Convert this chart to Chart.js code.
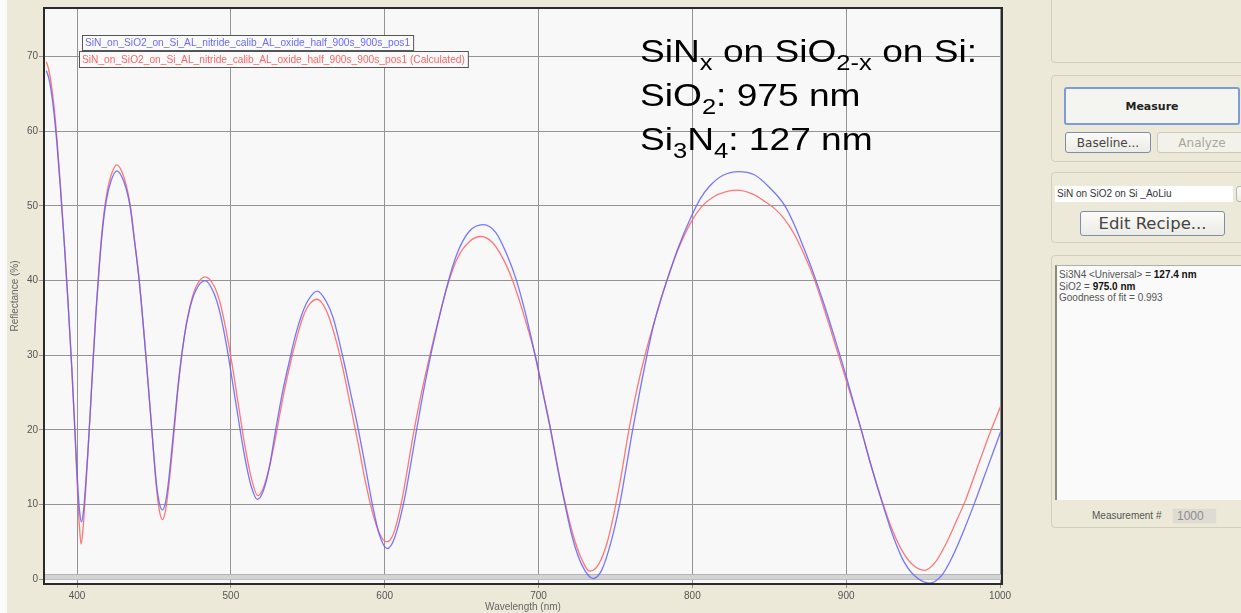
<!DOCTYPE html>
<html>
<head>
<meta charset="utf-8">
<script src="https://cdn.jsdelivr.net/npm/chart.js@4.4.1/dist/chart.umd.min.js"></script>
<style>
  html, body { margin: 0; padding: 0; }
  body { width: 1241px; height: 613px; background: #ece9d8; position: relative; overflow: hidden; font-family: "Liberation Sans", Arial, sans-serif; }
  #edge { position: absolute; left: 0; top: 0; width: 7px; height: 613px; background: #fbfbf9; }
  #plot { position: absolute; left: 0; top: 0; }
  .note { position: absolute; left: 640px; font-size: 32px; line-height: 32px; color: #000; white-space: nowrap; transform: scaleX(1.16); transform-origin: left center; }
  .note .sb { font-size: 22px; position: relative; top: 8px; }
  .grp { position: absolute; border: 1px solid #d0d0bf; border-radius: 4px; box-sizing: border-box; }
  .btn { position: absolute; box-sizing: border-box; border: 1px solid #7f8da8; border-radius: 3px; background: linear-gradient(#fbfbf9, #ecebe4); display: flex; align-items: center; justify-content: center; font-family: "DejaVu Sans", sans-serif; color: #444; white-space: nowrap; }
  .btn.measure { border: 2px solid #7d9bd4; font-weight: bold; font-size: 11px; color: #222; background: #f4f4f1; }
  .btn.dis { border-color: #cdcabc; color: #aca899; background: #f2f1ea; }
  .combo { position: absolute; box-sizing: border-box; background: #fff; font-size: 10px; color: #333; padding: 2px 2px; white-space: nowrap; }
  .result { position: absolute; box-sizing: border-box; background: #fafafa; border-left: 2px solid #8a8a80; border-top: 1px solid #b0afa5; font-size: 10px; color: #555; padding: 3px 2px; line-height: 11.5px; white-space: nowrap; }
  .result b { color: #111; }
  .lbl { position: absolute; font-size: 10px; color: #555; white-space: nowrap; }
  .num { position: absolute; box-sizing: border-box; background: #dedbd1; border: 1px solid #e8e6dc; font-size: 12px; color: #8c8c8c; padding-left: 4px; line-height: 14px; }
</style>
</head>
<body>
<div id="edge"></div>
<canvas id="plot" width="1040" height="613"></canvas>

<div class="note" style="top:35px">SiN<span class="sb">x</span> on SiO<span class="sb">2-x</span> on Si:</div>
<div class="note" style="top:79px">SiO<span class="sb">2</span>: 975 nm</div>
<div class="note" style="top:123px">Si<span class="sb">3</span>N<span class="sb">4</span>: 127 nm</div>

<div class="grp" style="left:1051px; top:-6px; width:200px; height:69px"></div>
<div class="grp" style="left:1051px; top:75px; width:200px; height:87px"></div>
<div class="btn measure" style="left:1064px; top:87px; width:176px; height:38px">Measure</div>
<div class="btn" style="left:1065px; top:132px; width:86px; height:21px; font-size:12px">Baseline...</div>
<div class="btn dis" style="left:1157px; top:132px; width:90px; height:21px; font-size:12px">Analyze</div>
<div class="grp" style="left:1051px; top:172px; width:200px; height:71px"></div>
<div class="combo" style="left:1055px; top:186px; width:178px; height:16px">SiN on SiO2 on Si _AoLiu</div>
<div class="btn" style="left:1236px; top:186px; width:14px; height:16px; border-color:#b9b8ad"></div>
<div class="btn" style="left:1080px; top:211px; width:145px; height:25px; font-size:16.5px">Edit Recipe...</div>
<div class="grp" style="left:1051px; top:255px; width:200px; height:273px"></div>
<div class="result" style="left:1055px; top:265px; width:200px; height:235px">
  Si3N4 &lt;Universal&gt; = <b>127.4 nm</b><br>
  SiO2 = <b>975.0 nm</b><br>
  Goodness of fit = 0.993
</div>
<div class="lbl" style="left:1092px; top:510px">Measurement #</div>
<div class="num" style="left:1172px; top:508px; width:45px; height:16px">1000</div>

<script>
// wavelength axis ticks (nm) and reflectance ticks (%)
const xTicks = [400, 500, 600, 700, 800, 900, 1000];
const yTicks = [0, 10, 20, 30, 40, 50, 60, 70];

// measured spectrum
const measuredNm = [380, 381.5, 383, 384.8, 386.8, 389, 391.5, 394, 396.5, 398.5, 399.8, 400.8, 401.8, 402.8,
  404.1, 405.5, 407, 408.6, 410.5, 412.5, 414.5, 416.5, 419, 422, 425.8,
  430.5, 434.4, 437.5, 440.4, 444.7, 448.6, 451.5, 453.5, 455.5,
  457.5, 459.5, 462.5, 466, 469.5, 473, 477, 483.2,
  489, 493, 497, 501, 505, 509, 513, 517.2,
  521, 525, 529.1, 533.5, 538.9, 542, 546, 550, 556.2,
  562, 566.5, 572.5, 577.8, 582.9, 587.5, 592, 596.5, 601.7,
  606.5, 612.6, 616, 619.7, 623.5, 627.7, 634, 640.8, 647, 655, 664,
  672, 679, 685.7, 692, 698.3, 703, 708, 712.5, 716.7, 722, 728, 735.5,
  741, 747, 753, 757, 761, 765.5, 770.3, 775, 780, 784.4, 791, 798.5, 805, 811, 820, 829.9,
  840, 850, 860.2, 866, 872, 878.7, 886, 893, 900, 909.8, 916.5, 923.8, 931, 938, 946, 954.2,
  962, 969, 976, 983.4, 990, 995, 1000.3];
const measuredPct = [68.1, 67.2, 65.6, 62.8, 58.6, 52.8, 45.5, 37.5, 28.6, 20.5, 15, 11.3, 8.8, 7.7,
  9.0, 12.5, 17, 22.5, 29.5, 36.3, 42, 46.7, 50.7, 53.3, 54.7,
  53.2, 50, 45, 40, 30, 20, 13, 10.2, 9.3,
  10.3, 13.2, 19.3, 26.6, 32.2, 36.0, 38.6, 40.0,
  38.3, 35.6, 31.5, 26.5, 21.3, 16.4, 12.6, 10.7,
  11.8, 15, 20, 25, 30, 32.7, 35.4, 37.3, 38.6,
  37.2, 35, 30, 25, 20, 15, 10, 6, 4.1,
  5.6, 10.5, 14.3, 18.8, 23.3, 27.8, 33.8, 39.5, 43.6, 46.6, 47.5,
  46.5, 43.7, 40, 35.2, 29.5, 24.8, 19.8, 14.8, 10.5, 5.6, 2.0, 0.1,
  1.2, 4.9, 10.3, 15, 19.8, 24.8, 29.8, 34.2, 37.8, 40.6, 44.5, 48.2, 50.9, 52.6, 54.1, 54.6,
  54.2, 52.5, 50, 47.6, 44.6, 41.0, 36.6, 32, 27.2, 20, 15, 10, 5.5, 2.2, 0.2, -0.5,
  0.5, 3, 6.3, 10.2, 13.9, 16.7, 19.7];

// fitted (calculated) spectrum
const calcNm = [380, 381.5, 383, 384.8, 386.8, 389, 391.5, 394, 396.5, 398.5, 399.8, 400.8, 401.8, 402.6,
  403.9, 405.3, 406.8, 408.4, 410.3, 412.3, 414.3, 416.3, 418.8, 422, 425.8,
  430.5, 434.4, 437.5, 440.4, 444.7, 448.6, 451.5, 453.5, 455.5,
  457.5, 459.5, 462.5, 466, 469.5, 473, 477, 483.2,
  489, 493, 497, 501, 505, 509, 513, 517.5,
  521, 525, 529.5, 534, 539, 543, 547, 551, 556.2,
  562, 567, 572.5, 577.5, 582.9, 587, 592, 596.5, 601.1,
  605.5, 610.4, 614, 618, 622.5, 627.7, 634, 640.8, 647, 655, 662.5,
  670, 677, 683.5, 691, 698.3, 703, 708, 712.5, 716.7, 722, 727, 733.4,
  739, 745, 751, 754.5, 758.4, 763.5, 769.2, 776, 783.3, 790, 798.5, 806, 813.5, 821, 828.8,
  840, 847, 853.7, 860, 866, 872, 878.7, 886, 894.6, 902, 909.8, 916.5, 923.8, 930, 937, 944, 950.9,
  958, 965, 971, 977.4, 985, 992, 1000.3];
const calcPct = [69.3, 68.3, 66.6, 63.7, 59.3, 53.3, 45.8, 37.6, 28.5, 20, 14, 9.6, 6.3, 4.7,
  6.8, 11, 16, 21.8, 29, 36, 41.8, 46.8, 51, 54, 55.5,
  53.8, 50.3, 45.2, 40, 30, 20, 12.5, 9.2, 8.0,
  9.2, 12.3, 18.5, 26.3, 32.2, 36.2, 39, 40.5,
  39.3, 37, 33.2, 28.5, 23.2, 18, 13.8, 11.2,
  12.2, 15, 19.5, 24.5, 29.2, 32.5, 35.2, 36.8, 37.5,
  36, 33, 28.5, 23.5, 18, 13.5, 9, 6.2, 5.0,
  6.0, 9.8, 13.8, 18.7, 23.6, 28.5, 34.0, 39.3, 42.9, 45.2, 45.9,
  45.1, 42.9, 39.8, 35, 29.6, 25, 20, 15, 10.8, 6.3, 3.2, 1.1,
  2.0, 5.2, 10.8, 14.8, 19.6, 25, 30, 35, 39.9, 43.8, 47.6, 49.9, 51.2, 51.85, 52.1,
  51.5, 50.6, 49.6, 48.2, 46.3, 43.8, 40.5, 36, 30.3, 25.3, 20, 15, 10.2, 6.6, 3.6, 1.8, 1.2,
  2.3, 4.8, 7.5, 10.5, 14.8, 18.8, 23.1];

const sampleName = 'SiN_on_SiO2_on_Si_AL_nitride_calib_AL_oxide_half_900s_900s_pos1';

const toPoints = (xs, ys) => xs.map((x, i) => ({ x: x, y: ys[i] }));

// label boxes in the upper left corner, one per series
const labelBoxes = [
  { left: 82, top: 35, height: 15 },
  { left: 79, top: 51, height: 16 }
];

const plotFrame = {
  id: 'plotFrame',
  beforeDraw(chart) {
    const { ctx, chartArea: a } = chart;
    ctx.save();
    ctx.fillStyle = '#f8f8f8';
    ctx.fillRect(a.left, a.top, a.right - a.left, a.bottom - a.top);
    ctx.restore();
  },
  beforeDatasetsDraw(chart) {
    // grey baseline strip just above zero
    const { ctx, chartArea: a, scales } = chart;
    const y0 = scales.y.getPixelForValue(-0.05);
    const y1 = scales.y.getPixelForValue(0.7);
    ctx.save();
    ctx.fillStyle = '#d3d3d3';
    ctx.fillRect(a.left, y1, a.right - a.left, y0 - y1);
    ctx.strokeStyle = '#b4b4b4';
    ctx.lineWidth = 1;
    ctx.beginPath();
    ctx.moveTo(a.left, Math.round(y1) + 0.5);
    ctx.lineTo(a.right, Math.round(y1) + 0.5);
    ctx.stroke();
    ctx.restore();
  },
  afterDraw(chart) {
    const { ctx, chartArea: a } = chart;
    ctx.save();
    ctx.strokeStyle = '#2b2b2b';
    ctx.lineWidth = 2;
    ctx.strokeRect(a.left, a.top, a.right - a.left, a.bottom - a.top);

    ctx.font = '10.2px "Liberation Sans", Arial, sans-serif';
    ctx.textBaseline = 'middle';
    chart.data.datasets.forEach((ds, i) => {
      const b = labelBoxes[i];
      const w = ctx.measureText(ds.label).width + 6;
      ctx.fillStyle = '#fafafa';
      ctx.fillRect(b.left, b.top, w, b.height);
      ctx.strokeStyle = '#555';
      ctx.lineWidth = 1;
      ctx.strokeRect(b.left + 0.5, b.top + 0.5, w, b.height);
      ctx.fillStyle = ds.labelColor;
      ctx.fillText(ds.label, b.left + 3, b.top + b.height / 2 + 1);
    });
    ctx.restore();
  }
};

const tickFont = { family: '"Liberation Sans", Arial, sans-serif', size: 10 };

new Chart(document.getElementById('plot'), {
  type: 'line',
  data: {
    datasets: [{
      label: sampleName,
      labelColor: '#6b6bff',
      data: toPoints(measuredNm, measuredPct),
      borderColor: 'rgba(95, 95, 255, 0.85)',
      borderWidth: 1.3,
      pointRadius: 0,
      cubicInterpolationMode: 'monotone',
      fill: false
    }, {
      label: sampleName + ' (Calculated)',
      labelColor: '#ff6464',
      data: toPoints(calcNm, calcPct),
      borderColor: 'rgba(255, 105, 105, 0.9)',
      borderWidth: 1.3,
      pointRadius: 0,
      cubicInterpolationMode: 'monotone',
      fill: false
    }]
  },
  options: {
    responsive: false,
    animation: false,
    layout: { padding: { top: 8, right: 38, left: 0, bottom: 0 } },
    plugins: { legend: { display: false }, tooltip: { enabled: false } },
    scales: {
      x: {
        type: 'linear',
        min: 378.5,
        max: 1001.3,
        afterBuildTicks: s => { s.ticks = xTicks.map(v => ({ value: v })); },
        afterFit: s => { s.height = 29; },
        grid: { color: '#949494', lineWidth: 1, tickLength: 4 },
        border: { display: false },
        ticks: { color: '#555', font: tickFont, padding: 2, maxRotation: 0, callback: v => String(v) },
        title: { display: true, text: 'Wavelength (nm)', color: '#666', font: tickFont, padding: { top: 0, bottom: 0 } }
      },
      y: {
        min: -0.63,
        max: 76.5,
        afterBuildTicks: s => { s.ticks = yTicks.map(v => ({ value: v })); },
        afterFit: s => { s.width = 44; },
        grid: { color: '#949494', lineWidth: 1, tickLength: 5 },
        border: { display: false },
        ticks: { color: '#555', font: tickFont, padding: 1, callback: v => String(v) },
        title: { display: true, text: 'Reflectance (%)', color: '#666', font: tickFont, padding: { top: 9, bottom: 0 } }
      }
    }
  },
  plugins: [plotFrame]
});
</script>
</body>
</html>
